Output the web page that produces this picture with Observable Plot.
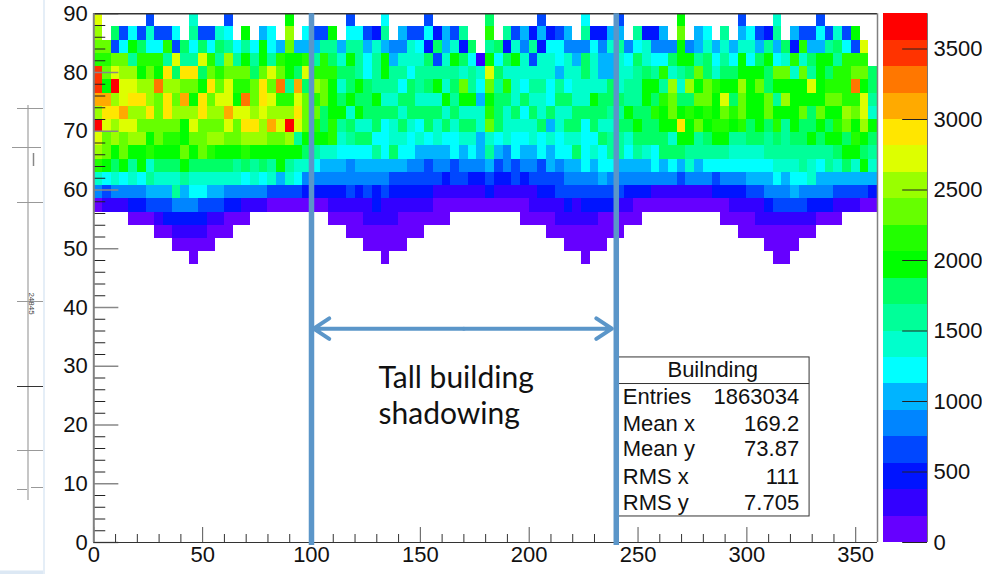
<!DOCTYPE html>
<html><head><meta charset="utf-8">
<script src="https://cdn.jsdelivr.net/npm/d3@7"></script>
<script src="https://cdn.jsdelivr.net/npm/@observablehq/plot@0.6"></script>
<style>
html,body{margin:0;padding:0;background:#fff;overflow:hidden}
#chart{position:relative;width:982px;height:574px}
#chart svg{position:absolute;left:0;top:0;background:none}
g[aria-label="tall building edge"],g[aria-label="shadow span"]{filter:drop-shadow(2px 2px 2px rgba(0,0,0,.3))}
</style></head><body><div id="chart"></div>
<script>
const _ = null;
// colour-band readings per elevation bin (band b covers b*187.5 .. (b+1)*187.5 entries)
const xBinStart = d3.range(90).map(i => i * 4);
const band_87_75 = [14,_,_,_,_,_,3,_,_,_, _,7,_,_,_,3,_,_,_,_, _,_,10,_,_,_,_,_,_,3, _,_,_,6,_,_,_,_,3,_, _,_,_,_,_,9,_,_,_,_, _,3,_,_,_,_,6,_,_,_, 3,_,_,_,_,_,_,10,_,_, _,_,_,_,3,_,_,_,7,_, _,_,_,3,_,_,_,_,_,_];
const band_85_5 = [13,_,9,3,6,3,7,3,3,6, _,8,3,3,7,6,_,10,_,5, 6,_,13,_,6,3,3,10,_,6, 6,3,2,8,_,5,3,3,6,2, 5,3,8,_,_,11,_,8,3,5, 2,5,2,3,5,_,8,2,2,5, 5,_,8,2,2,5,_,12,_,5, 6,_,8,_,5,6,3,2,8,_, 5,3,3,6,3,7,3,10,_,_];
const band_83_25 = [12,12,3,6,10,9,6,6,11,3, 9,6,9,6,9,8,6,8,6,10, 6,5,12,5,5,5,8,8,5,8, 8,5,7,5,4,4,7,6,2,9, 5,7,2,9,_,8,9,2,7,4, 8,2,6,6,4,4,4,6,4,7, 8,4,6,7,4,4,4,10,4,5, 7,5,7,5,7,7,5,8,5,9, 2,11,5,5,8,9,6,3,14,_];
const band_81 = [11,11,12,12,8,11,11,11,8,14, 8,8,14,11,8,13,8,10,8,10, 8,11,10,10,11,8,11,9,7,10, 8,6,8,10,5,7,7,7,9,3, 7,10,9,6,1,10,6,9,10,7, 3,7,7,6,7,5,9,7,5,5, 7,6,9,7,6,6,9,10,10,8, 9,6,8,6,10,6,9,10,6,7, 11,7,9,10,10,8,11,11,11,_];
const band_78_75 = [18,12,14,13,13,10,12,10,15,9, 15,15,9,12,11,12,12,12,9,12, 14,12,10,9,14,11,11,11,9,9, 8,6,8,10,8,8,6,8,8,8, 8,8,7,8,7,14,9,7,7,7, 7,7,7,5,7,7,9,7,5,5, 7,7,8,9,8,11,7,8,9,12, 9,7,9,9,10,10,10,9,12,12, 7,12,8,10,9,11,11,12,12,9];
const band_76_5 = [18,10,19,14,14,13,13,17,13,13, 12,12,10,15,12,14,11,11,12,15, 12,17,8,16,9,13,12,10,7,9, 10,9,8,8,8,6,9,8,9,10, 7,9,12,8,6,12,8,11,7,6, 8,8,6,8,6,7,7,7,7,9, 7,8,8,10,10,8,13,7,13,10, 12,11,10,10,13,10,12,9,10,10, 10,10,14,10,11,11,11,17,10,9];
const band_74_25 = [16,16,13,14,15,15,13,12,15,12, 16,10,15,12,14,14,10,17,12,15, 14,11,11,14,12,11,12,10,9,10, 9,9,10,7,7,9,9,7,7,7, 10,8,10,10,5,10,9,9,7,9, 7,7,6,9,9,7,7,10,9,9, 9,8,8,10,9,11,12,9,9,12, 12,10,14,9,12,10,10,12,8,13, 10,10,10,10,12,12,11,11,14,8];
const band_72 = [13,15,15,16,13,13,15,12,15,13, 13,13,15,13,13,16,14,14,13,14, 13,13,13,15,12,12,9,10,10,7, 10,9,9,9,9,7,9,9,9,9, 7,9,7,7,7,11,9,7,9,6, 9,7,9,7,7,9,9,9,9,8, 8,10,9,9,11,10,12,10,11,10, 11,10,12,11,12,10,10,12,10,10, 10,12,9,12,10,10,13,12,14,7];
const band_69_75 = [19,14,13,14,14,12,12,12,12,12, 10,14,12,12,12,14,12,15,15,13, 16,14,19,14,12,11,9,11,8,9, 7,7,9,6,7,9,7,6,9,7, 9,7,9,9,7,12,9,7,7,7, 7,9,5,7,9,9,6,9,7,7, 9,9,10,9,9,10,10,15,10,12, 10,11,11,10,11,9,10,9,11,8, 10,9,9,10,9,11,12,10,13,10];
const band_67_5 = [14,12,13,12,13,13,10,12,11,11, 10,12,12,13,13,12,12,13,13,13, 12,12,13,8,10,10,10,11,7,8, 9,9,6,6,7,7,6,7,6,7, 6,6,7,7,5,7,6,7,6,6, 7,6,7,6,7,7,6,6,9,8, 8,7,9,9,9,9,7,10,10,8, 9,10,10,8,8,9,9,8,9,8, 9,9,10,9,10,10,9,11,10,9];
const band_65_25 = [13,12,10,12,10,10,11,10,10,10, 12,10,12,11,10,10,10,11,10,10, 10,10,10,10,9,8,7,7,6,6, 6,6,8,6,9,6,6,5,5,5, 5,6,5,6,5,8,5,4,6,5, 5,6,5,6,6,9,6,7,6,8, 8,6,8,7,6,9,9,9,8,8, 8,8,8,7,7,7,7,8,8,8, 8,8,8,8,8,9,10,10,9,8];
const band_63 = [11,10,9,10,8,10,7,9,9,9, 10,9,9,9,9,9,8,9,8,9, 8,10,8,7,7,6,5,5,5,4, 5,5,5,5,5,5,4,4,3,4, 4,3,4,4,4,5,3,4,3,4, 4,3,5,4,5,5,6,5,6,6, 5,5,5,5,6,5,6,5,7,5, 6,6,6,6,6,6,6,6,7,7, 7,8,7,6,8,7,9,7,10,7];
const band_60_75 = [7,6,7,6,7,6,8,7,7,7, 8,7,7,7,7,7,7,6,7,6, 7,5,7,6,4,4,4,4,4,4, 4,4,4,4,3,3,3,3,3,3, 2,3,3,2,2,3,2,2,3,2, 3,3,3,3,4,4,4,4,5,4, 4,4,4,4,4,4,4,3,4,4, 4,3,4,4,4,5,5,5,6,5, 6,6,7,5,5,5,5,5,5,5];
const band_58_5 = [4,3,4,4,4,4,5,5,5,8, 5,6,6,5,5,4,4,4,4,4, 3,3,3,3,2,2,2,2,2,3, 2,3,2,3,2,2,2,2,2,1, 1,1,1,1,1,2,1,1,1,1, 1,2,2,3,3,3,3,3,3,3, 3,2,2,2,1,1,1,1,1,1, 1,2,2,2,2,3,3,4,4,4, 5,4,4,4,4,3,3,3,3,2];
const band_56_25 = [0,1,1,1,2,2,3,3,3,4, 4,4,3,3,3,2,2,1,1,1, 0,0,0,0,0,0,0,1,1,1, 1,1,2,1,1,1,1,1,1,0, 0,0,0,0,0,0,0,0,0,0, 1,1,1,1,2,1,2,2,2,2, 1,1,0,0,0,0,0,0,0,0, 0,0,0,1,1,1,1,2,3,3, 3,3,2,2,2,1,1,1,0,0];
const band_54 = [_,_,_,_,0,0,0,1,2,2, 2,2,2,1,1,0,0,0,_,_, _,_,_,_,_,_,_,0,0,0, 0,1,1,1,1,0,0,0,0,0, 0,_,_,_,_,_,_,_,_,0, 0,0,0,1,1,1,1,1,0,0, 0,0,0,_,_,_,_,_,_,_, _,_,0,0,0,0,1,1,1,1, 1,1,1,0,0,0,_,_,_,_];
const band_51_75 = [_,_,_,_,_,_,_,0,0,1, 1,1,1,0,0,0,_,_,_,_, _,_,_,_,_,_,_,_,_,0, 0,0,0,0,0,0,0,0,_,_, _,_,_,_,_,_,_,_,_,_, _,_,0,0,0,0,0,0,0,0, 0,_,_,_,_,_,_,_,_,_, _,_,_,_,0,0,0,0,0,0, 0,0,0,_,_,_,_,_,_,_];
const band_49_5 = [_,_,_,_,_,_,_,_,_,0, 0,0,0,0,_,_,_,_,_,_, _,_,_,_,_,_,_,_,_,_, _,0,0,0,0,0,_,_,_,_, _,_,_,_,_,_,_,_,_,_, _,_,_,_,0,0,0,0,0,_, _,_,_,_,_,_,_,_,_,_, _,_,_,_,_,_,_,0,0,0, 0,_,_,_,_,_,_,_,_,_];
const band_47_25 = [_,_,_,_,_,_,_,_,_,_, _,0,_,_,_,_,_,_,_,_, _,_,_,_,_,_,_,_,_,_, _,_,_,0,_,_,_,_,_,_, _,_,_,_,_,_,_,_,_,_, _,_,_,_,_,_,0,_,_,_, _,_,_,_,_,_,_,_,_,_, _,_,_,_,_,_,_,_,0,0, _,_,_,_,_,_,_,_,_,_];

const yBins = [
  [87.75,band_87_75],[85.5,band_85_5],[83.25,band_83_25],[81,band_81],[78.75,band_78_75],
  [76.5,band_76_5],[74.25,band_74_25],[72,band_72],[69.75,band_69_75],[67.5,band_67_5],
  [65.25,band_65_25],[63,band_63],[60.75,band_60_75],[58.5,band_58_5],[56.25,band_56_25],
  [54,band_54],[51.75,band_51_75],[49.5,band_49_5],[47.25,band_47_25]
];
const xBinWidth = 4, yBinWidth = 2.25, bandWidth = 187.5;
const thresholds = [187.5,375,562.5,750,937.5,1125,1312.5,1500,1687.5,1875,2062.5,2250,2437.5,2625,2812.5,3000,3187.5,3375,3562.5];
const palette = ["#6600ff","#3300ff","#0014ff","#0047ff","#0085ff","#00b4ff","#00ffff","#00ffcc","#00ff99","#00ff66",
                 "#00ff00","#22ff00","#66ff00","#99ff00","#ddff00","#ffe600","#ffaa00","#ff7700","#ff3300","#ff0000"];
const xLabels = [0,50,100,150,200,250,300,350];
const xMinor = [10,20,30,40,60,70,80,90,110,120,130,140,160,170,180,190,210,220,230,240,260,270,280,290,310,320,330,340,360];
const yLabels = [0,10,20,30,40,50,60,70,80,90];
const yMinor = [2,4,6,8,12,14,16,18,22,24,26,28,32,34,36,38,42,44,46,48,52,54,56,58,62,64,66,68,72,74,76,78,82,84,86,88];
const barLabels = [0,500,1000,1500,2000,2500,3000,3500];
const barStarts = [0,...thresholds];
const shadowEdges = [100,240];
const statNames = ["Entries","Mean x","Mean y","RMS x","RMS y"];
const statValues = ["1863034","169.2","73.87","111","7.705"];
const statRowY = [24.7,20.1,16,11.1,6.8];
const noteLines = ["Tall building","shadowing"];
const noteY = [27.9,21.8];

const cells = yBins.flatMap(([y, row]) => row.flatMap((b, i) =>
  b === null ? [] : [{x: xBinStart[i], y, count: (b + .5) * bandWidth}]));

const sans = "'Liberation Sans', Arial, sans-serif";
const colorScale = {type: "threshold", domain: thresholds, range: palette};
const fmt = d3.format("d");

const main = Plot.plot({
  width: 982, height: 574,
  marginLeft: 93.3, marginRight: 105, marginTop: 13.25, marginBottom: 32,
  x: {domain: [0, 360]}, y: {domain: [0, 90]}, color: colorScale,
  style: {background: "none", fontFamily: sans, color: "#111"},
  marks: [
    Plot.rect(cells, {x1: "x", x2: d => d.x + xBinWidth, y1: "y", y2: d => d.y + yBinWidth, fill: "count", inset: 0, shapeRendering: "crispEdges"}),
    Plot.ruleY(yMinor, {x1: 0, x2: 5.5, stroke: "#222", strokeWidth: 1}),
    Plot.ruleY(yLabels, {x1: 0, x2: 11.5, stroke: "#888", strokeWidth: 1.5}),
    Plot.ruleX(xMinor, {y1: 0, y2: 1.36, stroke: "#333", strokeWidth: 1}),
    Plot.ruleX(xLabels, {y1: 0, y2: 2.55, stroke: "#555", strokeWidth: 1}),
    Plot.ruleY([90], {x1: 0, x2: 360, stroke: "#333", strokeWidth: 1.5}),
    Plot.ruleY([0], {x1: 0, x2: 360, stroke: "#333", strokeWidth: 1.2}),
    Plot.ruleX([0], {y1: 0, y2: 90, stroke: "#808080", strokeWidth: 2}),
    Plot.ruleX([360], {y1: 0, y2: 90, stroke: "#808080", strokeWidth: 1.5}),
    Plot.axisX({anchor: "bottom", ticks: xLabels, tickSize: 0, tickPadding: 4, fontSize: 22, tickFormat: fmt, label: null}),
    Plot.axisY({anchor: "left", ticks: yLabels, tickSize: 0, tickPadding: 6, fontSize: 22, tickFormat: fmt, label: null}),
    // statistics box
    Plot.rect([0], {x1: 240.6, x2: 328.8, y1: 4.43, y2: 31.5, fill: "#fff", stroke: "#333", strokeWidth: 1}),
    Plot.ruleY([27.06], {x1: 240.6, x2: 328.8, stroke: "#333", strokeWidth: 1}),
    Plot.text(["Builnding"], {x: 284.3, y: 29.45, fontSize: 22, fill: "#111"}),
    Plot.text(statNames, {x: 243, y: (d, i) => statRowY[i], textAnchor: "start", fontSize: 22, fill: "#111"}),
    Plot.text(statValues, {x: 324, y: (d, i) => statRowY[i], textAnchor: "end", fontSize: 22, fill: "#111"}),
    // annotation
    Plot.ruleX(shadowEdges, {y1: -0.5, y2: 90, stroke: "#5b96c9", strokeWidth: 5.5, ariaLabel: "tall building edge"}),
    Plot.arrow([101, 238], {x1: 170, y1: 36.4, x2: d => d, y2: 36.4, stroke: "#5b96c9", strokeWidth: 4, headLength: 7, headAngle: 67, ariaLabel: "shadow span"}),
    Plot.text(noteLines, {x: 130.8, y: (d, i) => noteY[i], textAnchor: "start", fontSize: 30, fontFamily: "Lato, 'Open Sans', sans-serif", fill: "#111"})
  ]
});

const bar = Plot.plot({
  width: 982, height: 574,
  marginLeft: 882.7, marginRight: 55, marginTop: 13.25, marginBottom: 32,
  x: {domain: [0, 1], axis: null}, y: {domain: [0, 3750]}, color: colorScale,
  style: {background: "none", fontFamily: sans, color: "#111"},
  marks: [
    Plot.rect(barStarts, {x1: 0, x2: 1, y1: d => d, y2: d => d + bandWidth, fill: d => d + 1, inset: 0, shapeRendering: "crispEdges"}),
    Plot.ruleY(barLabels, {x1: 0.44, x2: 1, stroke: "#222", strokeWidth: 1}),
    Plot.ruleX([1], {y1: 0, y2: 3750, stroke: "#777", strokeWidth: 1}),
    Plot.axisY({anchor: "right", ticks: barLabels, tickSize: 0, tickPadding: 6, fontSize: 22, tickFormat: fmt, label: null})
  ]
});

// neighbouring drawing fragment at the slide's left edge
const scrapRules = [[17,43,108],[12,41,147],[17,43,202],[17,43,301],[17,43,386],[17,43,450],[17,27,489],[31,43,487]];
const scrap = Plot.plot({
  width: 982, height: 574, margin: 0,
  x: {type: "identity", axis: null}, y: {type: "identity", axis: null},
  style: {background: "none", fontFamily: sans},
  marks: [
    Plot.ruleX([27.5], {y1: 105, y2: 500, stroke: "#c6c6c6", strokeWidth: 2}),
    Plot.ruleX([43.5], {y1: 0, y2: 574, stroke: "#dce8f4", strokeWidth: 1.5}),
    Plot.ruleY([572], {x1: 0, x2: 43, stroke: "#dce8f4", strokeWidth: 4}),
    Plot.ruleY(scrapRules, {y: d => d[2], x1: d => d[0], x2: d => d[1], stroke: (d, i) => i === 4 ? "#333" : "#999", strokeWidth: 1}),
    Plot.ruleX([33], {y1: 153, y2: 166, stroke: "#888", strokeWidth: 1.5}),
    Plot.text(["24845"], {x: 31, y: 303, rotate: 90, fontSize: 8, fill: "#444"})
  ]
});

const host = document.getElementById("chart");
host.append(scrap, main, bar);
</script></body></html>
